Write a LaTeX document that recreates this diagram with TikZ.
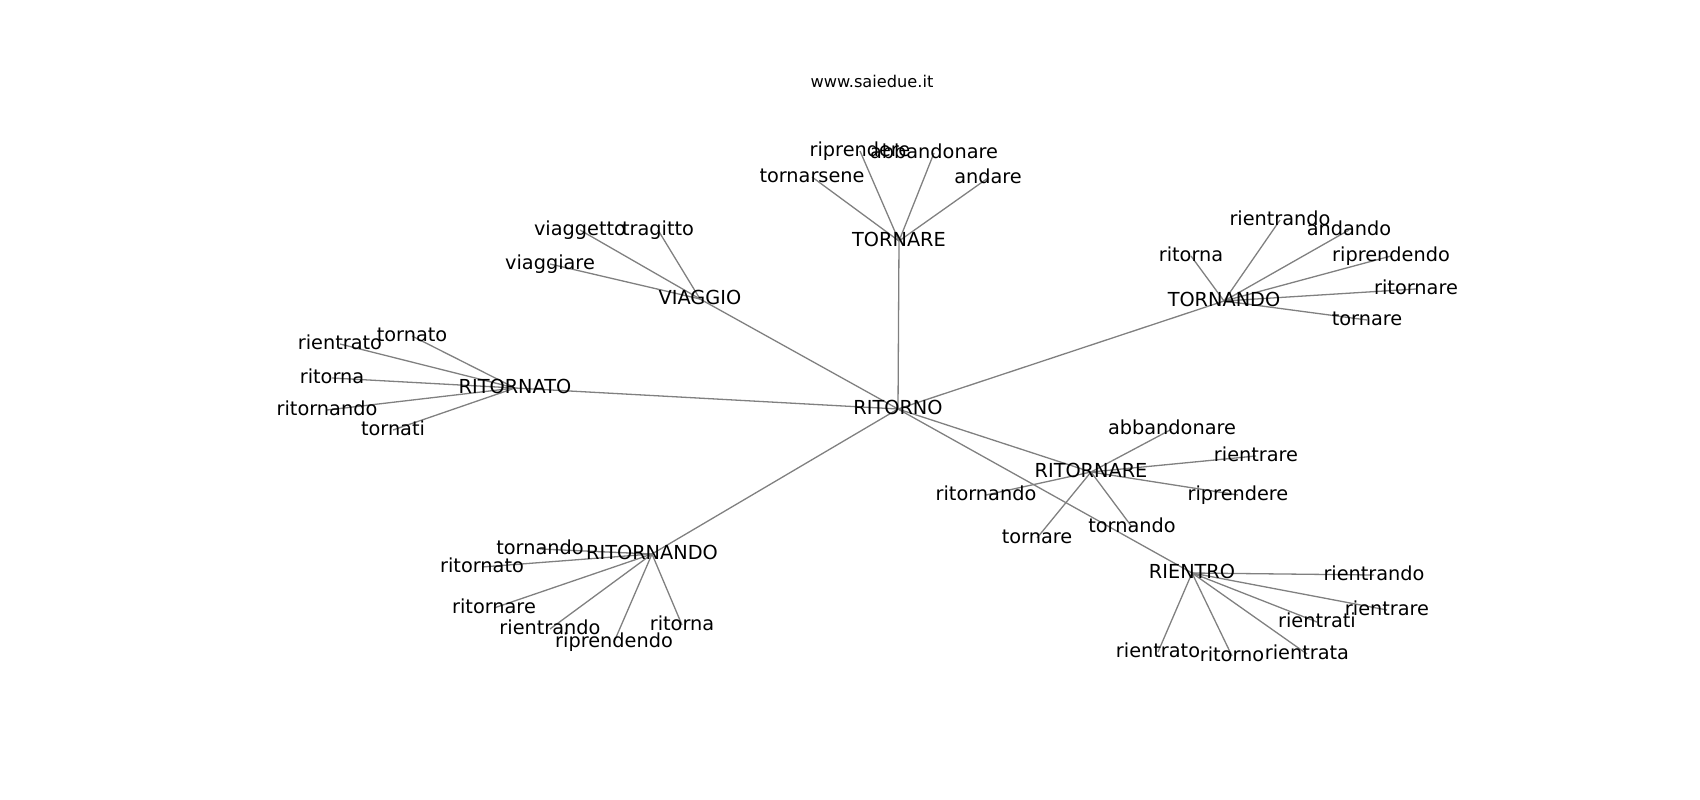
\documentclass[tikz,border=0pt]{standalone}
\usepackage{fontspec}
\setmainfont{DejaVu Sans}
\tikzset{
  lbl/.style={anchor=base, yshift=-5.5pt, inner sep=0pt, font=\fontsize{19.3}{23}\selectfont, text=black},
  ttl/.style={anchor=base, inner sep=0pt, font=\fontsize{16.2}{19}\selectfont, text=black},
  edge/.style={draw=black!50, line width=1.3pt}
}
\begin{document}
\begin{tikzpicture}[x=1pt,y=-1pt]
\useasboundingbox (0,0) rectangle (1700,800);
% node positions
\coordinate (RITORNO) at (898,409);
\coordinate (TORNARE) at (899,241);
\coordinate (tornarsene) at (812,177);
\coordinate (riprendereA) at (860,151);
\coordinate (abbandonareA) at (934,153);
\coordinate (andare) at (988,178);
\coordinate (VIAGGIO) at (700,299);
\coordinate (viaggetto) at (580,230);
\coordinate (tragitto) at (658,230);
\coordinate (viaggiare) at (550,264);
\coordinate (RITORNATO) at (515,388);
\coordinate (tornato) at (412,336);
\coordinate (rientratoA) at (340,344);
\coordinate (ritornaA) at (332,378);
\coordinate (ritornandoA) at (327,410);
\coordinate (tornati) at (393,430);
\coordinate (TORNANDO) at (1224,301);
\coordinate (ritornaB) at (1191,256);
\coordinate (rientrandoA) at (1280,220);
\coordinate (andando) at (1349,230);
\coordinate (riprendendoA) at (1391,256);
\coordinate (ritornareA) at (1416,289);
\coordinate (tornareA) at (1367,320);
\coordinate (RITORNARE) at (1091,472);
\coordinate (abbandonareB) at (1172,429);
\coordinate (rientrareA) at (1256,456);
\coordinate (riprendereB) at (1238,495);
\coordinate (ritornandoB) at (986,495);
\coordinate (tornareB) at (1037,538);
\coordinate (tornandoA) at (1132,527);
\coordinate (RIENTRO) at (1192,573);
\coordinate (rientrandoB) at (1374,575);
\coordinate (rientrareB) at (1387,610);
\coordinate (rientrati) at (1317,622);
\coordinate (rientratoB) at (1158,652);
\coordinate (ritorno) at (1232,656);
\coordinate (rientrata) at (1307,654);
\coordinate (RITORNANDO) at (652,554);
\coordinate (tornandoB) at (540,549);
\coordinate (ritornatoB) at (482,567);
\coordinate (ritornareB) at (494,608);
\coordinate (rientrandoC) at (550,629);
\coordinate (riprendendoB) at (614,642);
\coordinate (ritornaC) at (682,625);
\coordinate (title) at (872,87.5);
% edges
\foreach \a/\b in {RITORNO/TORNARE, RITORNO/VIAGGIO, RITORNO/RITORNATO, RITORNO/TORNANDO,
  RITORNO/RITORNARE, RITORNO/RIENTRO, RITORNO/RITORNANDO,
  TORNARE/tornarsene, TORNARE/riprendereA, TORNARE/abbandonareA, TORNARE/andare,
  VIAGGIO/viaggetto, VIAGGIO/tragitto, VIAGGIO/viaggiare,
  RITORNATO/tornato, RITORNATO/rientratoA, RITORNATO/ritornaA, RITORNATO/ritornandoA, RITORNATO/tornati,
  TORNANDO/ritornaB, TORNANDO/rientrandoA, TORNANDO/andando, TORNANDO/riprendendoA, TORNANDO/ritornareA, TORNANDO/tornareA,
  RITORNARE/abbandonareB, RITORNARE/rientrareA, RITORNARE/riprendereB, RITORNARE/ritornandoB, RITORNARE/tornareB, RITORNARE/tornandoA,
  RIENTRO/rientrandoB, RIENTRO/rientrareB, RIENTRO/rientrati, RIENTRO/rientratoB, RIENTRO/ritorno, RIENTRO/rientrata,
  RITORNANDO/tornandoB, RITORNANDO/ritornatoB, RITORNANDO/ritornareB, RITORNANDO/rientrandoC, RITORNANDO/riprendendoB, RITORNANDO/ritornaC}
  \draw[edge] (\a) -- (\b);
% labels
\node[ttl] (title-t) at (title) {www.saiedue.it};
\node[lbl] (RITORNO-t) at (RITORNO) {RITORNO};
\node[lbl] (TORNARE-t) at (TORNARE) {TORNARE};
\node[lbl] (tornarsene-t) at (tornarsene) {tornarsene};
\node[lbl] (riprendereA-t) at (riprendereA) {riprendere};
\node[lbl] (abbandonareA-t) at (abbandonareA) {abbandonare};
\node[lbl] (andare-t) at (andare) {andare};
\node[lbl] (VIAGGIO-t) at (VIAGGIO) {VIAGGIO};
\node[lbl] (viaggetto-t) at (viaggetto) {viaggetto};
\node[lbl] (tragitto-t) at (tragitto) {tragitto};
\node[lbl] (viaggiare-t) at (viaggiare) {viaggiare};
\node[lbl] (RITORNATO-t) at (RITORNATO) {RITORNATO};
\node[lbl] (tornato-t) at (tornato) {tornato};
\node[lbl] (rientratoA-t) at (rientratoA) {rientrato};
\node[lbl] (ritornaA-t) at (ritornaA) {ritorna};
\node[lbl] (ritornandoA-t) at (ritornandoA) {ritornando};
\node[lbl] (tornati-t) at (tornati) {tornati};
\node[lbl] (TORNANDO-t) at (TORNANDO) {TORNANDO};
\node[lbl] (ritornaB-t) at (ritornaB) {ritorna};
\node[lbl] (rientrandoA-t) at (rientrandoA) {rientrando};
\node[lbl] (andando-t) at (andando) {andando};
\node[lbl] (riprendendoA-t) at (riprendendoA) {riprendendo};
\node[lbl] (ritornareA-t) at (ritornareA) {ritornare};
\node[lbl] (tornareA-t) at (tornareA) {tornare};
\node[lbl] (RITORNARE-t) at (RITORNARE) {RITORNARE};
\node[lbl] (abbandonareB-t) at (abbandonareB) {abbandonare};
\node[lbl] (rientrareA-t) at (rientrareA) {rientrare};
\node[lbl] (riprendereB-t) at (riprendereB) {riprendere};
\node[lbl] (ritornandoB-t) at (ritornandoB) {ritornando};
\node[lbl] (tornareB-t) at (tornareB) {tornare};
\node[lbl] (tornandoA-t) at (tornandoA) {tornando};
\node[lbl] (RIENTRO-t) at (RIENTRO) {RIENTRO};
\node[lbl] (rientrandoB-t) at (rientrandoB) {rientrando};
\node[lbl] (rientrareB-t) at (rientrareB) {rientrare};
\node[lbl] (rientrati-t) at (rientrati) {rientrati};
\node[lbl] (rientratoB-t) at (rientratoB) {rientrato};
\node[lbl] (ritorno-t) at (ritorno) {ritorno};
\node[lbl] (rientrata-t) at (rientrata) {rientrata};
\node[lbl] (RITORNANDO-t) at (RITORNANDO) {RITORNANDO};
\node[lbl] (tornandoB-t) at (tornandoB) {tornando};
\node[lbl] (ritornatoB-t) at (ritornatoB) {ritornato};
\node[lbl] (ritornareB-t) at (ritornareB) {ritornare};
\node[lbl] (rientrandoC-t) at (rientrandoC) {rientrando};
\node[lbl] (riprendendoB-t) at (riprendendoB) {riprendendo};
\node[lbl] (ritornaC-t) at (ritornaC) {ritorna};
\end{tikzpicture}
\end{document}
